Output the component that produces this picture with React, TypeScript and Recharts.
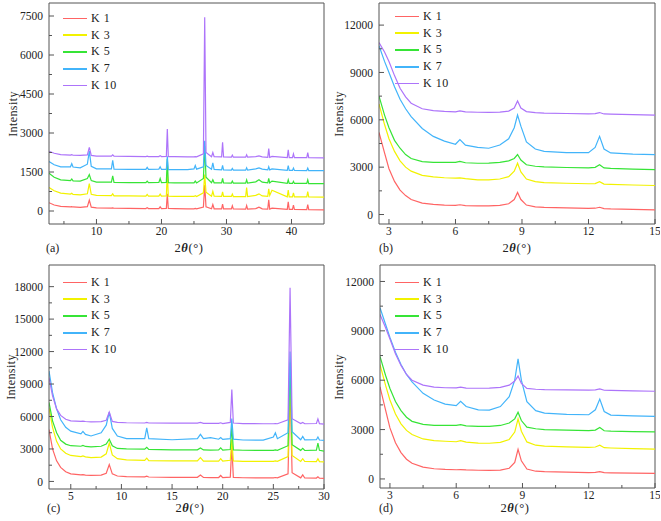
import { LineChart, Line, XAxis, YAxis, ReferenceLine } from "recharts";

const seriesNames = ["K 1", "K 3", "K 5", "K 7", "K 10"];
const seriesColors = ["#ff6464", "#f2f200", "#36e436", "#42b4fa", "#ad74fa"];

// (a) wide scan
const xA = [2.7, 3.5, 4.5, 6, 6.2, 6.4, 7.5, 8.6, 8.9, 9.2, 10, 12.3, 12.5, 12.7, 15, 17.6, 17.8, 18, 19.6, 19.8, 20, 20.75, 20.9, 21.05, 22, 24, 25, 25.2, 25.4, 26.45, 26.65, 26.85, 27.7, 27.9, 28.1, 29.25, 29.4, 29.55, 30.75, 30.9, 31.05, 32.95, 33.1, 33.25, 34.5, 35, 35.5, 36.35, 36.5, 36.65, 37, 39.35, 39.5, 39.65, 40.15, 40.3, 40.45, 42.35, 42.5, 42.65, 45];
const k1A = [320, 230, 180, 160, 165, 155, 140, 170, 420, 150, 120, 110, 120, 105, 100, 95, 130, 95, 95, 160, 95, 100, 660, 95, 90, 85, 85, 100, 85, 150, 1000, 160, 85, 250, 85, 85, 260, 80, 80, 200, 80, 75, 210, 70, 90, 150, 85, 70, 430, 70, 110, 60, 350, 60, 60, 230, 60, 55, 250, 55, 40];
const k3A = [900, 780, 690, 650, 680, 640, 620, 660, 1050, 640, 600, 590, 660, 585, 580, 575, 640, 575, 575, 650, 570, 580, 1500, 570, 565, 560, 560, 590, 560, 700, 1400, 720, 570, 760, 570, 560, 740, 560, 560, 650, 555, 555, 900, 555, 600, 660, 580, 560, 850, 600, 800, 545, 800, 545, 545, 700, 545, 540, 750, 540, 530];
const k5A = [1450, 1300, 1200, 1170, 1230, 1160, 1150, 1250, 1400, 1170, 1110, 1110, 1350, 1100, 1090, 1090, 1150, 1090, 1100, 1250, 1090, 1100, 2000, 1090, 1085, 1080, 1080, 1150, 1080, 1250, 2500, 1300, 1090, 1200, 1085, 1080, 1250, 1080, 1075, 1150, 1075, 1075, 1200, 1070, 1120, 1200, 1110, 1080, 1250, 1080, 1150, 1065, 1200, 1065, 1060, 1140, 1060, 1060, 1200, 1055, 1050];
const k7A = [1900, 1780, 1700, 1700, 1820, 1690, 1660, 1800, 2300, 1720, 1620, 1620, 1950, 1610, 1600, 1600, 1680, 1600, 1610, 1700, 1600, 1600, 2100, 1595, 1595, 1590, 1620, 1750, 1610, 1700, 2700, 1750, 1610, 1850, 1600, 1580, 1750, 1580, 1575, 1640, 1575, 1570, 1660, 1570, 1620, 1660, 1610, 1580, 1700, 1580, 1620, 1560, 1750, 1560, 1560, 1650, 1560, 1555, 1650, 1555, 1550];
const k10A = [2300, 2220, 2170, 2150, 2170, 2145, 2140, 2160, 2450, 2140, 2110, 2110, 2160, 2105, 2100, 2095, 2110, 2095, 2095, 2130, 2095, 2100, 3150, 2090, 2090, 2080, 2080, 2090, 2080, 2200, 7450, 2250, 2090, 2250, 2090, 2080, 2640, 2080, 2070, 2150, 2070, 2070, 2160, 2070, 2090, 2120, 2080, 2060, 2400, 2060, 2100, 2055, 2350, 2055, 2055, 2200, 2055, 2050, 2250, 2050, 2040];

// (b) low angle
const xB = [2.55, 2.8, 3, 3.25, 3.5, 3.75, 4, 4.5, 5, 5.5, 6, 6.2, 6.45, 7, 7.5, 8, 8.4, 8.65, 8.8, 8.95, 9.2, 9.6, 10, 11, 12, 12.3, 12.5, 12.7, 13, 14, 15];
const k1B = [5200, 3900, 2900, 2100, 1550, 1200, 950, 720, 640, 600, 580, 620, 570, 550, 550, 580, 680, 950, 1400, 950, 600, 480, 450, 420, 390, 400, 460, 380, 360, 330, 300];
const k3B = [7000, 5700, 4800, 4000, 3400, 3000, 2750, 2480, 2380, 2330, 2300, 2320, 2270, 2200, 2200, 2250, 2400, 2750, 3250, 2700, 2250, 2080, 2020, 1980, 1950, 1960, 2080, 1930, 1910, 1870, 1840];
const k5B = [7500, 6300, 5500, 4700, 4200, 3800, 3550, 3350, 3300, 3300, 3300, 3370, 3280, 3250, 3260, 3300, 3400, 3550, 3800, 3450, 3150, 3060, 3020, 2980, 2960, 2990, 3150, 2950, 2920, 2880, 2850];
const k7B = [10700, 9700, 9000, 8100, 7300, 6700, 6200, 5450, 4950, 4650, 4450, 4750, 4400, 4250, 4200, 4400, 4800, 5500, 6300, 5600, 4600, 4150, 4000, 3920, 3920, 4250, 4950, 4150, 3900, 3830, 3800];
const k10B = [10900, 10300, 9700, 8800, 8000, 7450, 7050, 6700, 6580, 6530, 6500, 6560, 6500, 6480, 6470, 6490, 6550, 6750, 7200, 6750, 6520, 6450, 6420, 6400, 6380, 6390, 6460, 6370, 6360, 6330, 6300];

// (c) medium scan
const xC = [2.85, 3.2, 3.6, 4, 4.5, 5, 6, 6.2, 6.45, 7, 8, 8.5, 8.8, 9.1, 9.6, 10.5, 12.3, 12.5, 12.7, 15, 17.5, 17.8, 18.1, 18.8, 19.6, 19.8, 20, 20.75, 20.9, 21.05, 22, 24, 25, 25.2, 25.4, 26.45, 26.65, 26.85, 27.7, 27.9, 28.1, 29.25, 29.4, 29.55, 30];
const k1C = [4800, 3000, 1900, 1300, 900, 700, 600, 620, 580, 560, 580, 750, 1550, 700, 500, 450, 420, 480, 410, 380, 380, 600, 370, 360, 360, 550, 350, 400, 3300, 380, 340, 330, 330, 360, 325, 700, 9000, 800, 330, 600, 320, 310, 420, 305, 280];
const k3C = [6800, 5000, 3700, 3000, 2600, 2400, 2300, 2350, 2270, 2200, 2250, 2550, 3550, 2450, 2100, 2000, 1950, 2150, 1930, 1900, 1900, 2200, 1880, 1870, 1880, 2100, 1870, 1950, 3900, 1900, 1860, 1850, 1860, 1900, 1850, 2300, 10000, 2400, 1850, 2100, 1840, 1830, 2100, 1830, 1800];
const k5C = [7300, 5600, 4500, 3800, 3450, 3300, 3250, 3320, 3230, 3200, 3250, 3450, 3900, 3300, 3050, 3000, 2980, 3150, 2960, 2920, 2920, 3100, 2910, 2900, 2920, 3100, 2900, 2950, 5100, 2920, 2880, 2870, 2870, 2920, 2870, 3300, 11000, 3400, 2870, 3050, 2860, 2900, 3550, 2880, 2800];
const k7C = [10200, 8200, 6700, 5700, 5000, 4650, 4400, 4620, 4350, 4200, 4500, 5200, 6400, 4900, 4200, 3950, 3950, 4950, 3950, 3850, 3950, 4350, 3950, 4050, 3900, 4050, 3880, 3950, 5800, 3900, 3830, 3820, 4100, 4500, 3950, 4500, 12000, 4600, 3850, 4150, 3840, 3850, 4100, 3830, 3800];
const k10C = [9600, 7900, 6700, 6100, 5750, 5600, 5550, 5570, 5540, 5500, 5520, 5650, 6400, 5550, 5450, 5420, 5400, 5460, 5400, 5380, 5380, 5450, 5370, 5360, 5360, 5420, 5350, 5450, 8500, 5400, 5340, 5330, 5330, 5350, 5330, 5700, 17900, 5800, 5340, 5450, 5330, 5350, 5780, 5340, 5300];

// (d) low angle, second set
const xD = [2.55, 2.8, 3, 3.25, 3.5, 3.75, 4, 4.5, 5, 5.5, 6, 6.2, 6.45, 7, 7.5, 8, 8.4, 8.65, 8.8, 8.95, 9.2, 9.6, 10, 11, 12, 12.3, 12.5, 12.7, 13, 14, 15];
const k1D = [5600, 4200, 3100, 2200, 1600, 1200, 950, 720, 620, 580, 560, 570, 550, 530, 520, 540, 650, 1000, 1800, 1100, 600, 470, 440, 410, 390, 400, 440, 380, 370, 350, 340];
const k3D = [6950, 5700, 4800, 3950, 3350, 2950, 2700, 2430, 2330, 2290, 2260, 2330, 2240, 2180, 2170, 2220, 2400, 2850, 3650, 2900, 2250, 2050, 1990, 1950, 1920, 1940, 2050, 1900, 1880, 1840, 1810];
const k5D = [7450, 6300, 5500, 4700, 4150, 3750, 3500, 3320, 3260, 3250, 3250, 3300, 3230, 3200, 3200, 3250, 3400, 3650, 4050, 3550, 3150, 3050, 3000, 2970, 2940, 2970, 3130, 2930, 2910, 2880, 2860];
const k7D = [10400, 9400, 8600, 7700, 6950, 6350, 5900, 5200, 4800, 4550, 4450, 4720, 4400, 4200, 4180, 4400, 5000, 6000, 7300, 6000, 4700, 4150, 4000, 3920, 3900, 4200, 4850, 4100, 3880, 3830, 3800];
const k10D = [10000, 9200, 8500, 7600, 6900, 6350, 6000, 5700, 5580, 5540, 5530, 5580, 5520, 5510, 5520, 5560, 5700, 5950, 6250, 5800, 5500, 5450, 5430, 5410, 5400, 5410, 5470, 5390, 5380, 5350, 5330];

const FONT = '"Liberation Serif", "DejaVu Serif", "Times New Roman", serif';
const AXIS = "#555";

function XTick(props: any) {
  const { x, y, payload, majors } = props;
  const major = majors.includes(payload.value);
  return (
    <g>
      <line x1={x} y1={y} x2={x} y2={y - (major ? 5 : 3)} stroke={AXIS} />
      {major && (
        <text x={x} y={y + 3} dy="0.71em" textAnchor="middle" fontSize={11.5} fontFamily={FONT} fill="#222">
          {payload.value}
        </text>
      )}
    </g>
  );
}

function YTick(props: any) {
  const { x, y, payload, majors } = props;
  const major = majors.includes(payload.value);
  return (
    <g>
      <line x1={x} y1={y} x2={x + (major ? 5 : 3)} y2={y} stroke={AXIS} />
      {major && (
        <text x={x - 6} y={y} dy="0.355em" textAnchor="end" fontSize={11.5} fontFamily={FONT} fill="#222">
          {payload.value}
        </text>
      )}
    </g>
  );
}

interface PanelProps {
  left: number;
  top: number;
  plot: { l: number; t: number; w: number; h: number };
  xs: number[];
  ys: number[][];
  xDomain: [number, number];
  yDomain: [number, number];
  xMajor: number[];
  xMinor: number[];
  yMajor: number[];
  yMinor: number[];
  letter: string;
  legendX: number;
  legendY: number;
  yLabelX: number;
  xLabelX: number;
  letterX: number;
  labelY: number;
}

function Panel(p: PanelProps) {
  const rows = p.xs.map((x, i) => {
    const row: Record<string, number> = { x };
    p.ys.forEach((s, k) => (row["s" + k] = s[i]));
    return row;
  });
  const W = 330;
  const H = 260;
  return (
    <div style={{ position: "absolute", left: p.left, top: p.top, width: W, height: H }}>
      <LineChart
        width={W}
        height={H}
        data={rows}
        margin={{ top: p.plot.t, left: 0, right: W - p.plot.l - p.plot.w, bottom: H - p.plot.t - p.plot.h - 20 }}
      >
        <XAxis
          type="number"
          dataKey="x"
          domain={p.xDomain}
          allowDataOverflow
          ticks={[...p.xMajor, ...p.xMinor].sort((a, b) => a - b)}
          interval={0}
          height={20}
          tickSize={0}
          tickMargin={0}
          tickLine={false}
          axisLine={{ stroke: AXIS }}
          tick={(t: any) => <XTick {...t} majors={p.xMajor} />}
        />
        <YAxis
          type="number"
          domain={p.yDomain}
          allowDataOverflow
          ticks={[...p.yMajor, ...p.yMinor].sort((a, b) => a - b)}
          interval={0}
          width={p.plot.l}
          tickSize={0}
          tickMargin={0}
          tickLine={false}
          axisLine={{ stroke: AXIS }}
          tick={(t: any) => <YTick {...t} majors={p.yMajor} />}
        />
        <ReferenceLine y={p.yDomain[1]} stroke={AXIS} />
        <ReferenceLine x={p.xDomain[1]} stroke={AXIS} />
        {p.ys.map((_, k) => (
          <Line
            key={k}
            type="linear"
            dataKey={"s" + k}
            stroke={seriesColors[k]}
            strokeWidth={1.2}
            dot={false}
            isAnimationActive={false}
          />
        ))}
      </LineChart>

      <div style={{ position: "absolute", left: p.legendX, top: p.legendY, fontFamily: FONT, fontSize: 12, color: "#222" }}>
        {seriesNames.map((name, k) => (
          <div key={k} style={{ display: "flex", alignItems: "center", height: 16.8 }}>
            <div style={{ width: 24, height: 1.5, background: seriesColors[k], marginRight: 4 }} />
            <span style={{ letterSpacing: 0.5 }}>{name}</span>
          </div>
        ))}
      </div>

      <div
        style={{
          position: "absolute",
          left: p.yLabelX,
          top: p.plot.t + p.plot.h / 2,
          transform: "translate(-50%, -50%) rotate(-90deg)",
          fontFamily: FONT,
          fontSize: 12,
          letterSpacing: 0.4,
          color: "#222",
          whiteSpace: "nowrap",
        }}
      >
        Intensity
      </div>

      <div
        style={{
          position: "absolute",
          left: p.xLabelX,
          top: p.labelY,
          transform: "translate(-50%, -50%)",
          fontFamily: FONT,
          fontSize: 12.5,
          letterSpacing: 0.6,
          color: "#222",
          whiteSpace: "nowrap",
        }}
      >
        2<b><i>θ</i></b>(°)
      </div>

      <div
        style={{
          position: "absolute",
          left: p.letterX,
          top: p.labelY,
          transform: "translateY(-50%)",
          fontFamily: FONT,
          fontSize: 12,
          color: "#222",
        }}
      >
        {p.letter}
      </div>
    </div>
  );
}

export default function App() {
  const lowMajorX = [3, 6, 9, 12, 15];
  const lowMinorX = [4.5, 7.5, 10.5, 13.5];
  return (
    <div style={{ position: "absolute", left: 0, top: 0, width: 661, height: 521, background: "#fff", overflow: "hidden" }}>
      <Panel
        left={0}
        top={0}
        plot={{ l: 49, t: 3, w: 275, h: 221 }}
        xs={xA}
        ys={[k1A, k3A, k5A, k7A, k10A]}
        xDomain={[2.7, 45]}
        yDomain={[-500, 8000]}
        xMajor={[10, 20, 30, 40]}
        xMinor={[5, 15, 25, 35]}
        yMajor={[0, 1500, 3000, 4500, 6000, 7500]}
        yMinor={[750, 2250, 3750, 5250, 6750]}
        letter="(a)"
        legendX={63}
        legendY={10}
        yLabelX={13}
        xLabelX={189}
        letterX={46}
        labelY={248}
      />
      <Panel
        left={330}
        top={0}
        plot={{ l: 49, t: 3, w: 276, h: 221 }}
        xs={xB}
        ys={[k1B, k3B, k5B, k7B, k10B]}
        xDomain={[2.55, 15]}
        yDomain={[-600, 13400]}
        xMajor={lowMajorX}
        xMinor={lowMinorX}
        yMajor={[0, 3000, 6000, 9000, 12000]}
        yMinor={[1500, 4500, 7500, 10500]}
        letter="(b)"
        legendX={65}
        legendY={8}
        yLabelX={9}
        xLabelX={187}
        letterX={49}
        labelY={248}
      />
      <Panel
        left={0}
        top={260}
        plot={{ l: 49, t: 5, w: 275, h: 224 }}
        xs={xC}
        ys={[k1C, k3C, k5C, k7C, k10C]}
        xDomain={[2.85, 30]}
        yDomain={[-700, 20000]}
        xMajor={[5, 10, 15, 20, 25, 30]}
        xMinor={[7.5, 12.5, 17.5, 22.5, 27.5]}
        yMajor={[0, 3000, 6000, 9000, 12000, 15000, 18000]}
        yMinor={[1500, 4500, 7500, 10500, 13500, 16500]}
        letter="(c)"
        legendX={63}
        legendY={14}
        yLabelX={11}
        xLabelX={190}
        letterX={47}
        labelY={248}
      />
      <Panel
        left={330}
        top={260}
        plot={{ l: 50, t: 5, w: 275, h: 223 }}
        xs={xD}
        ys={[k1D, k3D, k5D, k7D, k10D]}
        xDomain={[2.55, 15]}
        yDomain={[-550, 13000]}
        xMajor={lowMajorX}
        xMinor={lowMinorX}
        yMajor={[0, 3000, 6000, 9000, 12000]}
        yMinor={[1500, 4500, 7500, 10500]}
        letter="(d)"
        legendX={65}
        legendY={14}
        yLabelX={9}
        xLabelX={185}
        letterX={49}
        labelY={248}
      />
    </div>
  );
}
